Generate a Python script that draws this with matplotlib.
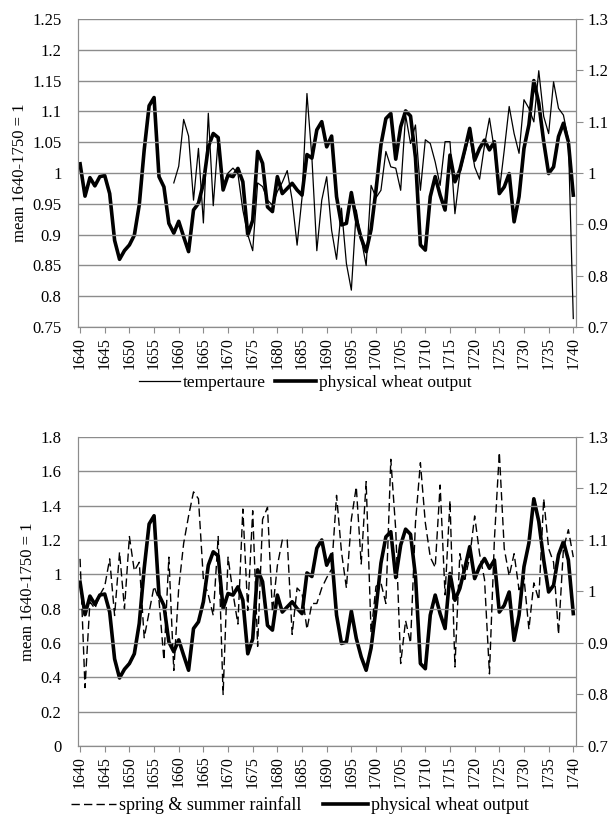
import matplotlib
matplotlib.use('Agg')
import matplotlib.pyplot as plt
from matplotlib.lines import Line2D

plt.rcParams['font.family'] = ['Liberation Serif', 'DejaVu Serif']
plt.rcParams['font.size'] = 12

# years 1640..1740
years = list(range(1640, 1741))

# physical wheat output (right axis, both panels)
wheat = [1.018, 0.955, 0.991, 0.975, 0.993, 0.995, 0.96, 0.869, 0.832, 0.849,
         0.86, 0.879, 0.938, 1.045, 1.131, 1.147, 0.993, 0.973, 0.902, 0.883,
         0.906, 0.876, 0.847, 0.928, 0.941, 0.98, 1.051, 1.077, 1.069, 0.967,
         0.996, 0.993, 1.009, 0.983, 0.879, 0.908, 1.042, 1.019, 0.934, 0.925,
         0.993, 0.96, 0.97, 0.98, 0.967, 0.957, 1.036, 1.029, 1.084, 1.1,
         1.051, 1.072, 0.954, 0.899, 0.902, 0.962, 0.909, 0.873, 0.847, 0.89,
         0.967, 1.055, 1.106, 1.116, 1.027, 1.09, 1.121, 1.111, 1.03, 0.86,
         0.85, 0.954, 0.993, 0.957, 0.928, 1.035, 0.983, 1.006, 1.045, 1.087,
         1.025, 1.048, 1.064, 1.045, 1.061, 0.96, 0.973, 0.999, 0.905, 0.954,
         1.048, 1.094, 1.18, 1.136, 1.061, 0.999, 1.012, 1.071, 1.097, 1.061,
         0.957]

# temperature, 1659..1740 (left axis, top panel)
temp_years = list(range(1659, 1741))
temp = [0.984, 1.011, 1.087, 1.06, 0.956, 1.04, 0.919, 1.097, 0.947, 1.056,
        0.98, 1.0, 1.008, 0.999, 0.94, 0.9, 0.874, 0.984, 0.978, 0.956,
        0.948, 0.97, 0.985, 1.004, 0.956, 0.883, 0.96, 1.129, 1.025, 0.874,
        0.956, 0.994, 0.907, 0.86, 0.943, 0.853, 0.81, 0.94, 0.893, 0.85,
        0.98, 0.96, 0.972, 1.035, 1.01, 1.008, 0.972, 1.094, 1.048, 1.078,
        0.972, 1.054, 1.048, 1.018, 0.98, 1.051, 1.051, 0.934, 1.0, 1.032,
        1.062, 1.01, 0.99, 1.045, 1.089, 1.037, 0.97, 1.037, 1.108, 1.064,
        1.032, 1.119, 1.105, 1.083, 1.166, 1.092, 1.064, 1.148, 1.105, 1.094,
        1.054, 0.764]

# spring & summer rainfall, 1640..1740 (left axis, bottom panel)
rain = [1.09, 0.34, 0.84, 0.8, 0.88, 0.93, 1.09, 0.76, 1.13, 0.8,
        1.22, 1.02, 1.07, 0.63, 0.78, 0.93, 0.85, 0.5, 1.1, 0.44,
        0.92, 1.18, 1.34, 1.48, 1.44, 0.97, 0.88, 0.76, 1.22, 0.3,
        1.1, 0.89, 0.71, 1.38, 0.79, 1.37, 0.58, 1.32, 1.39, 0.78,
        1.05, 1.2, 1.2, 0.65, 0.92, 0.89, 0.68, 0.83, 0.83, 0.92,
        0.98, 1.03, 1.46, 1.13, 0.92, 1.32, 1.51, 1.06, 1.54, 0.66,
        0.93, 0.95, 0.83, 1.67, 1.26, 0.48, 0.73, 0.6, 1.3, 1.65,
        1.3, 1.1, 1.04, 1.52, 0.88, 1.43, 0.46, 1.12, 0.97, 1.1,
        1.34, 1.12, 0.97, 0.42, 1.2, 1.71, 1.15, 0.99, 1.12, 0.91,
        0.98, 0.68, 0.95, 0.85, 1.44, 1.15, 1.07, 0.65, 1.15, 1.26,
        1.1]

GRID = '#8c8c8c'


def fmt(v):
    return '{:g}'.format(round(v, 2))


def style_panel(ax, ax2, lticks, rticks):
    ax.set_xlim(1639.6, 1740.6)
    ax.set_ylim(lticks[0], lticks[-1])
    ax2.set_ylim(rticks[0], rticks[-1])
    ax.set_yticks(lticks)
    ax.set_yticklabels([fmt(v) for v in lticks])
    ax2.set_yticks(rticks)
    ax2.set_yticklabels([fmt(v) for v in rticks])
    ax.set_xticks(list(range(1640, 1741, 5)))
    ax.set_xticklabels([str(y) for y in range(1640, 1741, 5)], rotation=90,
                       fontsize=11.5)
    ax.grid(axis='y', color=GRID, linewidth=1)
    ax.set_axisbelow(True)
    for a in (ax, ax2):
        for s in a.spines.values():
            s.set_color(GRID)
        a.spines['top'].set_visible(False)
    ax.tick_params(axis='y', length=0, pad=12)
    ax.tick_params(axis='x', length=4, color=GRID, pad=3)
    ax2.tick_params(axis='y', length=5, color=GRID, pad=3)
    ax.set_ylabel('mean 1640-1750 = 1', labelpad=3)
    ax.set_zorder(ax2.get_zorder() + 1)
    ax.patch.set_visible(False)


fig = plt.figure(figsize=(6.15, 8.24), dpi=100)

# top panel
ax = fig.add_axes([0.127, 0.603, 0.81, 0.374])
ax2 = ax.twinx()
ax.plot(temp_years, temp, color='black', linewidth=0.9)
ax2.plot(years, wheat, color='black', linewidth=2.6)
style_panel(ax, ax2, [0.75 + 0.05 * i for i in range(11)],
            [0.7 + 0.1 * i for i in range(7)])
h1 = [Line2D([], [], color='black', linewidth=0.9),
      Line2D([], [], color='black', linewidth=2.6)]
fig.legend(h1, ['tempertaure', 'physical wheat output'], loc='center',
           bbox_to_anchor=(0.496, 0.535), ncol=2, frameon=False,
           fontsize=12.5, handlelength=2.4, columnspacing=0.5,
           handletextpad=0.15)

# bottom panel
bx = fig.add_axes([0.127, 0.0947, 0.81, 0.375])
bx2 = bx.twinx()
bx.plot(years, rain, color='black', linewidth=1.0, dashes=(6, 3))
bx2.plot(years, wheat, color='black', linewidth=2.6)
style_panel(bx, bx2, [0.2 * i for i in range(10)],
            [0.7 + 0.1 * i for i in range(7)])
h2 = [Line2D([], [], color='black', linewidth=1.0, dashes=(6, 3)),
      Line2D([], [], color='black', linewidth=2.6)]
fig.legend(h2, ['spring & summer rainfall', 'physical wheat output'],
           loc='center', bbox_to_anchor=(0.488, 0.023), ncol=2, frameon=False,
           fontsize=13, handlelength=2.5, columnspacing=1.2,
           handletextpad=0.15)

fig.savefig('out.png', dpi=100)
